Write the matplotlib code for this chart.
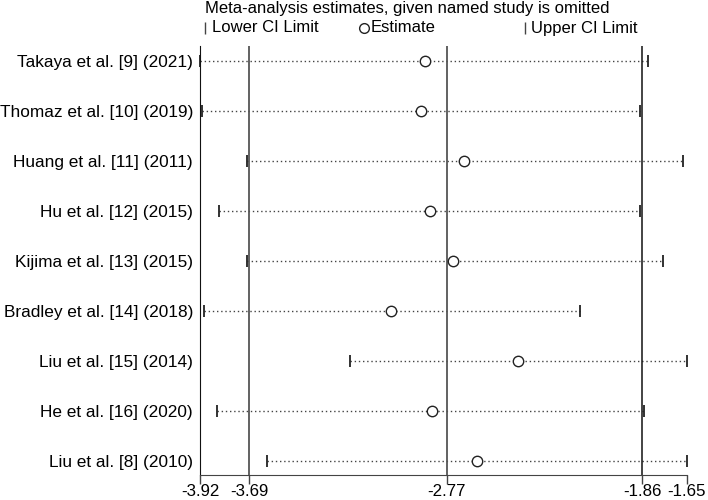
import numpy as np
import matplotlib
matplotlib.use("Agg")
import matplotlib.pyplot as plt
from matplotlib.lines import Line2D

plt.rcParams['font.family'] = ['Liberation Sans', 'DejaVu Sans']

# study omitted in each row
studies = ["Takaya et al. [9] (2021)", "Thomaz et al. [10] (2019)",
           "Huang et al. [11] (2011)", "Hu et al. [12] (2015)",
           "Kijima et al. [13] (2015)", "Bradley et al. [14] (2018)",
           "Liu et al. [15] (2014)", "He et al. [16] (2020)",
           "Liu et al. [8] (2010)"]
estimate = [-2.87, -2.89, -2.69, -2.85, -2.74, -3.03, -2.44, -2.84, -2.63]
lower_ci = [-3.92, -3.91, -3.70, -3.83, -3.70, -3.90, -3.22, -3.84, -3.61]
upper_ci = [-1.83, -1.87, -1.67, -1.87, -1.76, -2.15, -1.65, -1.85, -1.65]

# pooled estimate and its CI
overall = [-3.69, -2.77, -1.86]
xticks = [-3.92, -3.69, -2.77, -1.86, -1.65]
tick_labels = ["-3.92", "-3.69", "-2.77", "-1.86", "-1.65"]

fig = plt.figure(figsize=(7.08, 5.0), dpi=100)
ax = fig.add_axes([200/708, 25/500, 487/708, 429/500])

y = np.arange(1, len(studies) + 1)

for yi, lo, hi in zip(y, lower_ci, upper_ci):
    ax.plot([lo, hi], [yi, yi], linestyle=(0, (1, 2)), color='#444444', lw=1.0, clip_on=False)
ax.plot(lower_ci, y, linestyle='none', marker='|', markersize=9, mew=1.3, color='#222222', clip_on=False)
ax.plot(upper_ci, y, linestyle='none', marker='|', markersize=9, mew=1.3, color='#222222', clip_on=False)
ax.plot(estimate, y, linestyle='none', marker='o', markersize=7.5, mfc='white', mec='#222222', mew=1.0, zorder=5)

ax.axvline(overall[0], color='#555555', lw=1.3)
ax.axvline(overall[1], color='#555555', lw=1.3)
ax.axvline(overall[2], color='#111111', lw=1.1)

ax.set_xlim(-3.92, -1.65)
ax.set_ylim(len(studies) + 0.28, 0.7)
ax.set_yticks(y)
ax.set_yticklabels(studies, fontsize=12.4)
ax.tick_params(axis='y', length=0, pad=5)
ax.set_xticks(xticks)
ax.set_xticklabels(tick_labels, fontsize=12.2)
ax.tick_params(axis='x', length=6.5, width=1, color='#444444', pad=0.3)

ax.spines['top'].set_visible(False)
ax.spines['right'].set_visible(False)
ax.spines['left'].set_color('#111111')
ax.spines['bottom'].set_color('#444444')

fig.text(205/708, 1 - 9/500, "Meta-analysis estimates, given named study is omitted",
         fontsize=12, va='center', ha='left')

# legend row drawn by hand (entries are not evenly spaced)
ly = 1 - 28/500
fig.add_artist(Line2D([205/708], [ly], marker='|', markersize=8, mew=1, color='#444444',
                      transform=fig.transFigure))
fig.text(212/708, ly, "Lower CI Limit", fontsize=12, va='center', ha='left')
fig.add_artist(Line2D([364/708], [ly], marker='o', markersize=7, mfc='white', mec='#222222',
                      mew=1, transform=fig.transFigure))
fig.text(371/708, ly, "Estimate", fontsize=12, va='center', ha='left')
fig.add_artist(Line2D([525/708], [ly], marker='|', markersize=8, mew=1, color='#444444',
                      transform=fig.transFigure))
fig.text(531/708, ly, "Upper CI Limit", fontsize=12, va='center', ha='left')

fig.savefig("out.png", dpi=100)
